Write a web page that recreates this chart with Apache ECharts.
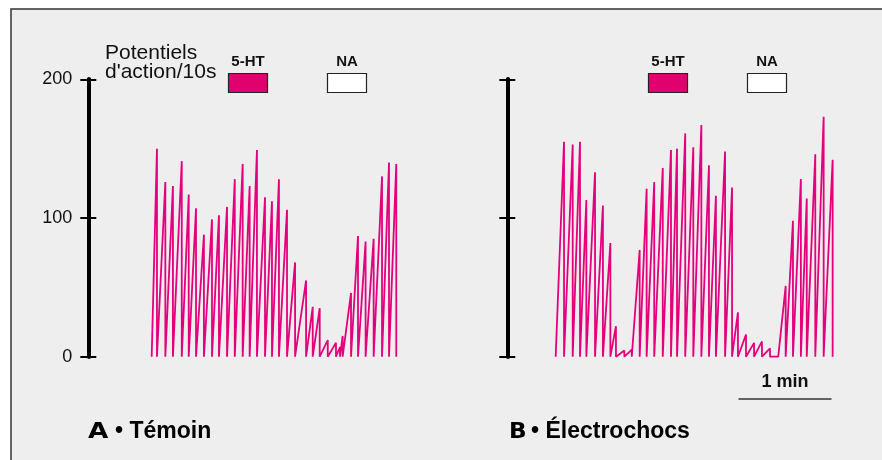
<!DOCTYPE html>
<html>
<head>
<meta charset="utf-8">
<title>Potentiels d'action</title>
<script src="https://cdn.jsdelivr.net/npm/echarts@6/dist/echarts.min.js"></script>
<style>
  html, body { margin: 0; padding: 0; background: #fff; }
  #chart { width: 882px; height: 460px; }
</style>
</head>
<body>
<div id="chart"></div>
<script>
// temps en secondes (reset du ratemeter) et pics en potentiels d'action / 10 s
const LEFT_START = 40.9
const LEFT_TIMES = [44.3, 49.7, 54.6, 60.3, 64.8, 69.5, 74.6, 79.8, 84.3, 89.5, 94.5, 99.6, 104.1,
  108.8, 114.0, 118.5, 123.0, 128.2, 133.4, 140.5, 144.8, 149.3, 154.5, 159.8, 162.4, 164.1,
  169.5, 174.0, 178.9, 184.1, 189.5, 194.0, 198.7]
const LEFT_PEAKS = [150, 126, 123, 141, 117, 107, 88, 99, 102, 108, 128, 139, 123,
  149, 115, 112, 128, 106, 68, 55, 36, 35, 12, 10, 7, 15,
  46, 87, 83, 85, 130, 140, 139]

const RIGHT_START = 31.2
const RIGHT_TIMES = [36.6, 42.2, 46.9, 51.0, 56.6, 61.7, 66.5, 70.1, 75.5, 80.3, 85.4, 89.9, 94.8,
  100.3, 105.6, 109.5, 114.8, 120.0, 125.2, 130.1, 134.6, 140.5, 145.0, 148.8, 154.0, 159.2,
  164.3, 169.5, 174.8, 179.6, 184.3, 189.4, 193.2, 198.7, 204.1, 209.9]
const RIGHT_PEAKS = [155, 153, 155, 113, 133, 109, 82, 22, 4.5, 5, 77, 121, 126,
  136, 149, 150, 161, 151, 167, 138, 116, 148, 122, 32, 16, 10,
  11, 6, 0, 51, 98, 128, 114, 146, 173, 142]

const Y_MIN = 0
const Y_MAX = 200
const Y_STEP = 100
const T_MAX = 220

const PINK = '#e4007c'
const FONT = '"Liberation Sans", Arial, sans-serif'

// vertical drop at each reset, linear rise between resets
function trace(start, times, peaks) {
  const pts = [[start, 0]]
  times.forEach((t, i) => {
    pts.push([t, peaks[i]], [t, 0])
  })
  return pts
}

// two overlapping axes per panel so the ticks cross the axis line
function yAxis(gridIndex, inside, labels) {
  return {
    type: 'value', gridIndex, position: 'left', offset: 0,
    min: Y_MIN, max: Y_MAX, interval: Y_STEP,
    axisLine: { show: true, lineStyle: { color: '#000', width: 4 } },
    axisTick: { show: true, inside, length: 8, lineStyle: { color: '#000', width: 2 } },
    axisLabel: { show: labels, margin: 16, fontSize: 18, color: '#111', fontFamily: FONT },
    splitLine: { show: false },
  }
}

function xAxis(gridIndex) {
  return { type: 'value', gridIndex, min: 0, max: T_MAX, show: false }
}

function drugBox(x, label, fill) {
  return [
    { type: 'rect', shape: { x, y: 73.5, width: 39, height: 19 },
      style: { fill, stroke: '#222', lineWidth: 1.2 }, z: 5 },
    { type: 'text', x: x + 19.5, y: 62,
      style: { text: label, fill: '#111', font: 'bold 15px ' + FONT, align: 'center', verticalAlign: 'middle' }, z: 5 },
  ]
}

const chart = echarts.init(document.getElementById('chart'), null, { renderer: 'canvas' })

chart.setOption({
  animation: false,
  backgroundColor: '#fff',
  grid: [
    { left: 88.3, top: 79.3, width: 341, height: 277.4 },
    { left: 507.3, top: 79.3, width: 341, height: 277.4 },
  ],
  xAxis: [xAxis(0), xAxis(1)],
  yAxis: [yAxis(0, false, true), yAxis(0, true, false), yAxis(1, false, false), yAxis(1, true, false)],
  series: [
    { type: 'line', xAxisIndex: 0, yAxisIndex: 0, data: trace(LEFT_START, LEFT_TIMES, LEFT_PEAKS),
      showSymbol: false, clip: false, lineStyle: { color: PINK, width: 1.8 }, z: 3 },
    { type: 'line', xAxisIndex: 1, yAxisIndex: 2, data: trace(RIGHT_START, RIGHT_TIMES, RIGHT_PEAKS),
      showSymbol: false, clip: false, lineStyle: { color: PINK, width: 1.8 }, z: 3 },
  ],
  graphic: [
    // fond gris encadré
    { type: 'rect', shape: { x: 11, y: 9, width: 900, height: 480 },
      style: { fill: '#eeeeee', stroke: '#333', lineWidth: 1.5 }, z: -10 },
    { type: 'text', x: 105, y: 53,
      style: { text: 'Potentiels', fill: '#111', font: '21px ' + FONT, verticalAlign: 'middle' } },
    { type: 'text', x: 105, y: 72,
      style: { text: "d'action/10s", fill: '#111', font: '21px ' + FONT, verticalAlign: 'middle' } },
    ...drugBox(228.5, '5-HT', '#e0006e'),
    ...drugBox(327.5, 'NA', '#fff'),
    ...drugBox(648.5, '5-HT', '#e0006e'),
    ...drugBox(747.5, 'NA', '#fff'),
    // barre d'échelle 1 min
    { type: 'line', shape: { x1: 738.5, y1: 399, x2: 831.5, y2: 399 },
      style: { stroke: '#333', lineWidth: 1.5 } },
    { type: 'text', x: 785, y: 382,
      style: { text: '1 min', fill: '#111', font: 'bold 18px ' + FONT, align: 'center', verticalAlign: 'middle' } },
    // titres des panneaux
    { type: 'text', x: 88, y: 433, scaleX: 1.25,
      style: { text: 'A', fill: '#000', font: 'bold 21px "DejaVu Sans", sans-serif', verticalAlign: 'middle' } },
    { type: 'text', x: 115, y: 432,
      style: { text: '• Témoin', fill: '#000', font: 'bold 23px ' + FONT, verticalAlign: 'middle' } },
    { type: 'text', x: 509, y: 433, scaleX: 1.1,
      style: { text: 'B', fill: '#000', font: 'bold 21px "DejaVu Sans", sans-serif', verticalAlign: 'middle' } },
    { type: 'text', x: 531, y: 432,
      style: { text: '• Électrochocs', fill: '#000', font: 'bold 23px ' + FONT, verticalAlign: 'middle' } },
  ],
})
</script>
</body>
</html>
